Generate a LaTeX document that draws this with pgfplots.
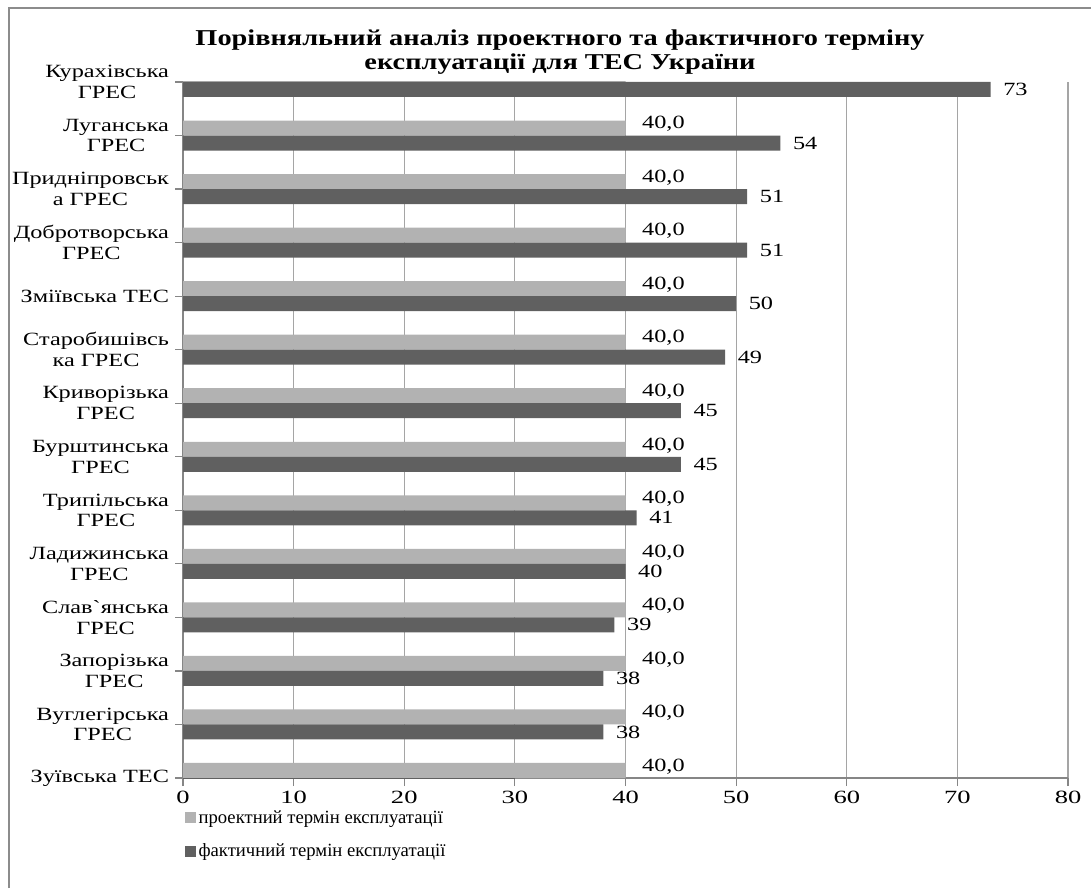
\documentclass[border=0pt]{standalone}
\usepackage{fontspec}
\setmainfont{Liberation Serif}
\newfontfamily\wideA[FakeStretch=1.3]{Liberation Serif}
\newfontfamily\wideT[FakeStretch=1.42]{Liberation Serif}
\newfontfamily\wideB[FakeStretch=1.25]{Liberation Serif}
\usepackage{pgfplots}
\usepackage{pgfplotstable}
\pgfplotsset{compat=1.18}
\definecolor{lightbar}{RGB}{178,178,178}
\definecolor{darkbar}{RGB}{96,96,96}
\definecolor{gridc}{RGB}{165,165,165}
\definecolor{axisc}{RGB}{134,134,134}
\definecolor{framec}{RGB}{140,140,140}

\pgfplotstableread{
y x lab
0 40 40,0
1 40 40,0
2 40 40,0
3 40 40,0
4 40 40,0
5 40 40,0
6 40 40,0
7 40 40,0
8 40 40,0
9 40 40,0
10 40 40,0
11 40 40,0
12 40 40,0
13 40 {}
}\proj

\pgfplotstableread{
y x lab
0 30 {}
1 38 38
2 38 38
3 39 39
4 40 40
5 41 41
6 45 45
7 45 45
8 49 49
9 50 50
10 51 51
11 51 51
12 54 54
13 73 73
}\fact

\begin{document}
\begin{tikzpicture}[x=0.75pt,y=0.75pt]
\useasboundingbox (0,0) rectangle (1091,888);
\draw[framec, line width=1.2pt] (9,0) -- (9,880) -- (1091,880);
\node[font=\wideB\bfseries\fontsize{17pt}{18.5pt}\selectfont, align=center] at (560,836)
  {Порівняльний аналіз проектного та фактичного терміну\\експлуатації для ТЕС України};
\begin{axis}[
  at={(137.25pt,82.5pt)}, anchor=south west,
  scale only axis, width=663.75pt, height=522pt,
  xbar, bar width=11.25pt,
  xmin=0, xmax=80, ymin=0, ymax=13,
  xtick={0,10,...,80}, ytick={0,...,13},
  yticklabels={Зуївська ТЕС,{Вуглегірська\\ГРЕС},{Запорізька\\ГРЕС},{Слав`янська\\ГРЕС},{Ладижинська\\ГРЕС},{Трипільська\\ГРЕС},{Бурштинська\\ГРЕС},{Криворізька\\ГРЕС},{Старобишівсь\\ка ГРЕС},Зміївська ТЕС,{Добротворська\\ГРЕС},{Придніпровськ\\а ГРЕС},{Луганська\\ГРЕС},{Курахівська\\ГРЕС}},
  axis x line*=bottom, axis y line*=left,
  axis line style={axisc, line width=0.9pt},
  xmajorgrids, grid style={gridc, line width=0.9pt},
  tick align=outside,
  major tick length=6pt,
  tick style={axisc, line width=0.9pt},
  yticklabel style={align=center, font=\wideA\fontsize{14pt}{15.5pt}\selectfont, xshift=-1pt},
  xticklabel style={font=\wideT\fontsize{14pt}{16pt}\selectfont},
  /pgf/number format/assume math mode=true,
  point meta=explicit symbolic,
  nodes near coords={\pgfplotspointmeta},
  legend style={at={(0,0)}, anchor=north west, yshift=-22pt, xshift=1pt, draw=none, fill=none,
    font=\fontsize{14pt}{16pt}\selectfont, row sep=10pt, inner sep=0pt,
    /tikz/every even column/.append style={column sep=0pt}},
  legend cell align=left,
  legend image code/.code={\fill[#1] (0pt,-4.2pt) rectangle (8.5pt,4.2pt);},
]
\addplot[fill=lightbar, draw=none, bar shift=5.625pt,
  every node near coord/.append style={anchor=west, xshift=9pt, yshift=3pt, font=\wideA\fontsize{14pt}{16pt}\selectfont}]
  table[x=x, y=y, meta=lab] {\proj};
\addlegendentry{проектний термін експлуатації}
\addplot[fill=darkbar, draw=none, bar shift=-5.625pt,
  every node near coord/.append style={anchor=west, xshift=6pt, font=\wideA\fontsize{14pt}{16pt}\selectfont}]
  table[x=x, y=y, meta=lab] {\fact};
\addlegendentry{фактичний термін експлуатації}
\end{axis}
\end{tikzpicture}
\end{document}
